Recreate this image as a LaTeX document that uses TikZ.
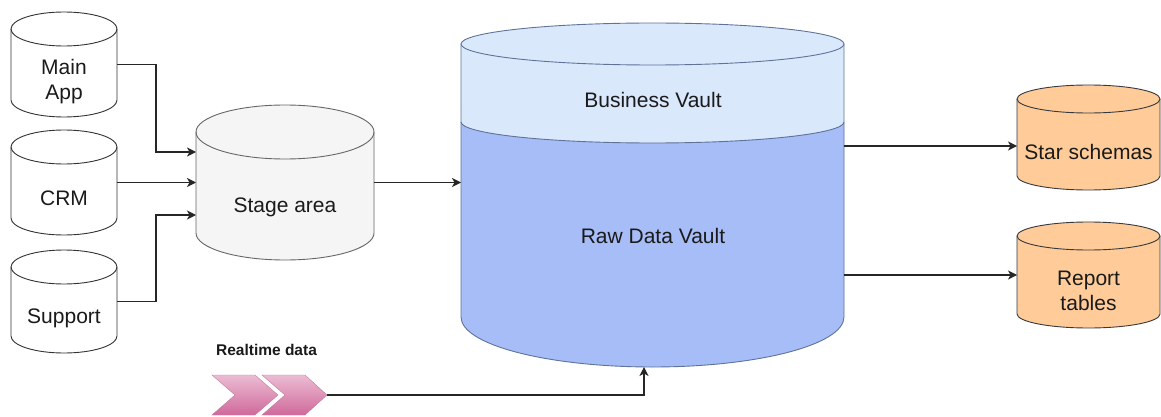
\documentclass[tikz,border=0pt]{standalone}
\usepackage{fontspec}
\setmainfont{Liberation Sans}
\usetikzlibrary{arrows.meta,calc}

\definecolor{srcline}{HTML}{333333}
\definecolor{stagefill}{HTML}{F5F5F5}
\definecolor{stageline}{HTML}{666666}
\definecolor{bizfill}{HTML}{DAE8FC}
\definecolor{rawfill}{HTML}{A6BDF7}
\definecolor{vaultline}{HTML}{5F7399}
\definecolor{martfill}{HTML}{FFCC99}
\definecolor{martline}{HTML}{36393D}
\definecolor{pinklight}{HTML}{EBBCD3}
\definecolor{pinkdark}{HTML}{D0699B}
\definecolor{pinkline}{HTML}{C47BA2}
\definecolor{inktext}{HTML}{1A1A1A}

% cylinder drawn inside the bounding box of an empty node:
% #1 node name, #2 x radius, #3 y radius (pt), #4 fill/draw style
\newcommand\cylbody[4]{%
  \path[#4] ([yshift=-#3pt]#1.north west) -- ([yshift=#3pt]#1.south west)
    arc[start angle=180,end angle=360,x radius=#2pt,y radius=#3pt]
    -- ([yshift=-#3pt]#1.north east)
    arc[start angle=0,end angle=180,x radius=#2pt,y radius=#3pt] -- cycle;
  \path[#4,fill=none] ([yshift=-#3pt]#1.north west)
    arc[start angle=180,end angle=360,x radius=#2pt,y radius=#3pt];
}

\tikzset{
  shapebox/.style={rectangle,inner sep=0pt,outer sep=0pt,draw=none},
  lbl/.style={anchor=base,inner sep=0pt,align=center,text=inktext,
    font=\fontsize{21}{25}\selectfont},
  conn/.style={draw=black!85,line width=1.2pt,
    -{Stealth[length=9pt,width=9pt,inset=2.5pt]}},
  srccyl/.style={fill=white,draw=srcline,line width=0.9pt},
  stagecyl/.style={fill=stagefill,draw=stageline,line width=0.9pt},
  martcyl/.style={fill=martfill,draw=martline,line width=0.9pt},
  chevron/.style={top color=pinklight,bottom color=pinkdark,draw=pinkline,line width=0.4pt}
}

\begin{document}
\begin{tikzpicture}[x=1pt,y=-1pt]
\useasboundingbox (0,0) rectangle (1161,417);

% ---- source systems ----
\node[shapebox,minimum width=106pt,minimum height=105pt] (main) at (64,64.5) {};
\node[shapebox,minimum width=106pt,minimum height=105pt] (crm) at (64,182.5) {};
\node[shapebox,minimum width=106pt,minimum height=103pt] (sup) at (64,301.5) {};
\cylbody{main}{53}{17}{srccyl}
\cylbody{crm}{53}{17}{srccyl}
\cylbody{sup}{53}{17}{srccyl}
\node[lbl] (mainlbl) at (64,99.5) {Main\\App};
\node[lbl] (crmlbl) at (64,205) {CRM};
\node[lbl] (suplbl) at (64,323) {Support};

% ---- staging ----
\node[shapebox,minimum width=178pt,minimum height=155pt] (stage) at (285,182.5) {};
\cylbody{stage}{89}{27}{stagecyl}
\node[lbl] (stagelbl) at (285,212) {Stage area};

% ---- data vault (business layer on top of raw layer) ----
\node[shapebox,minimum width=383pt,minimum height=344pt] (vault) at (652.5,195) {};
\path[fill=bizfill] ([yshift=-21pt]vault.north west) -- ([yshift=50pt]vault.south west)
  arc[start angle=180,end angle=360,x radius=191.5pt,y radius=50pt]
  -- ([yshift=-21pt]vault.north east)
  arc[start angle=0,end angle=180,x radius=191.5pt,y radius=21pt] -- cycle;
\path[fill=rawfill] ([yshift=-99pt]vault.north west) -- ([yshift=50pt]vault.south west)
  arc[start angle=180,end angle=360,x radius=191.5pt,y radius=50pt]
  -- ([yshift=-99pt]vault.north east)
  arc[start angle=0,end angle=-180,x radius=191.5pt,y radius=21pt] -- cycle;
\draw[vaultline,line width=0.9pt] ([yshift=-99pt]vault.north west)
  arc[start angle=180,end angle=360,x radius=191.5pt,y radius=21pt];
\draw[vaultline,line width=0.9pt] ([yshift=-21pt]vault.north west) -- ([yshift=50pt]vault.south west)
  arc[start angle=180,end angle=360,x radius=191.5pt,y radius=50pt]
  -- ([yshift=-21pt]vault.north east)
  arc[start angle=0,end angle=180,x radius=191.5pt,y radius=21pt] -- cycle;
\draw[vaultline,line width=0.9pt] ([yshift=-21pt]vault.north west)
  arc[start angle=180,end angle=360,x radius=191.5pt,y radius=21pt];
\node[lbl] (bvlbl) at (653,108) {Business Vault};
\node[lbl] (rdvlbl) at (653,243) {Raw Data Vault};

% ---- data marts ----
\node[shapebox,minimum width=143pt,minimum height=105pt] (star) at (1088.5,137.5) {};
\node[shapebox,minimum width=143pt,minimum height=106pt] (report) at (1088.5,275) {};
\cylbody{star}{71.5}{14}{martcyl}
\cylbody{report}{71.5}{14}{martcyl}
\node[lbl] (starlbl) at (1088.5,159) {Star schemas};
\node[lbl] (replbl) at (1088.5,310.5) {Report\\tables};

% ---- realtime feed ----
\node[anchor=base,inner sep=0pt,text=inktext,font=\fontsize{15.5}{18}\selectfont\bfseries]
  (rtlbl) at (266.5,355) {Realtime data};
\path[chevron] (212,375) -- (255,375) -- (278,395) -- (255,415) -- (212,415) -- (235,395) -- cycle;
\path[chevron] (262,375) -- (305,375) -- (327,395) -- (305,415) -- (262,415) -- (285,395) -- cycle;
\coordinate (rt) at (327,395);
\coordinate (vin) at ([xshift=-8.5pt]vault.south);

% ---- connectors ----
\draw[conn] (main.east) -- ++(39,0) |- ([yshift=30.5pt]stage.west);
\draw[conn] (crm.east) -- (stage.west);
\draw[conn] (sup.east) -- ++(39,0) |- ([yshift=-32.5pt]stage.west);
\draw[conn] (stage.east) -- (stage.east -| vault.west);
\draw[conn] ([yshift=49pt]vault.east) -- ([yshift=49pt]vault.east -| star.west);
\draw[conn] (report.west -| vault.east) -- (report.west);
\draw[conn] (rt) -| (vin);
\end{tikzpicture}
\end{document}
